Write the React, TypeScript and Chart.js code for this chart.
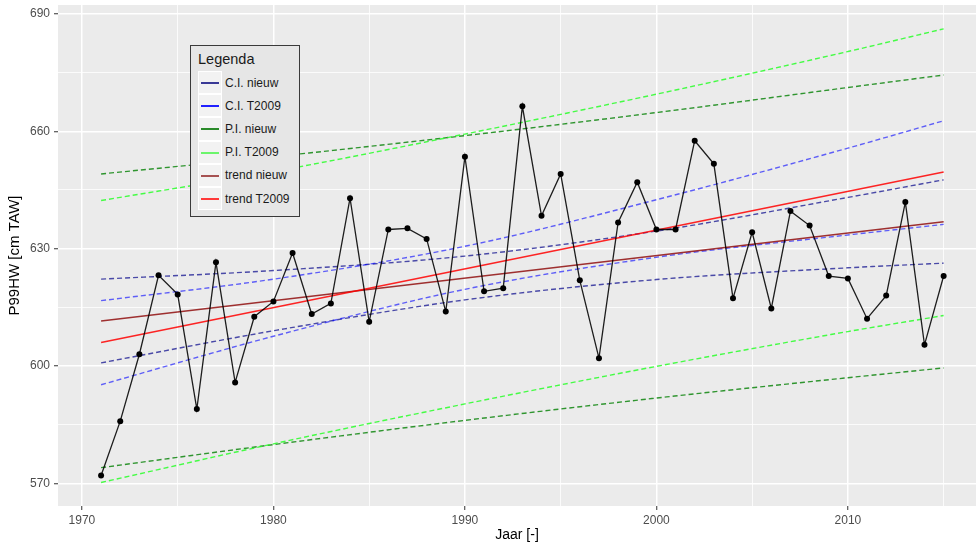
import React, { useEffect, useRef } from 'react';
import { Chart, registerables } from 'chart.js';

Chart.register(...registerables);

// ---- data ----
const years = [
  1971, 1972, 1973, 1974, 1975, 1976, 1977, 1978, 1979, 1980,
  1981, 1982, 1983, 1984, 1985, 1986, 1987, 1988, 1989, 1990,
  1991, 1992, 1993, 1994, 1995, 1996, 1997, 1998, 1999, 2000,
  2001, 2002, 2003, 2004, 2005, 2006, 2007, 2008, 2009, 2010,
  2011, 2012, 2013, 2014, 2015,
];
const p99hw = [
  572.0, 585.9, 603.0, 623.2, 618.3, 589.0, 626.5, 595.8, 612.6, 616.5,
  628.9, 613.3, 616.0, 642.9, 611.3, 634.9, 635.2, 632.5, 613.9, 653.5,
  619.1, 619.9, 666.4, 638.4, 649.1, 621.9, 602.0, 636.7, 647.0, 634.9,
  634.9, 657.6, 651.7, 617.3, 634.2, 614.7, 639.6, 635.9, 623.0, 622.4,
  612.1, 618.0, 641.9, 605.4, 623.0,
];

const bandYears = [1971, 1980, 1990, 2000, 2010, 2015];
const ciNieuwUpper = [622.2, 624.4, 628.1, 634.5, 643.1, 647.6];
const ciNieuwLower = [600.8, 609.0, 616.9, 622.1, 625.1, 626.3];
const ciT2009Upper = [616.7, 622.2, 630.6, 642.5, 655.7, 662.7];
const ciT2009Lower = [595.2, 607.6, 619.6, 627.8, 633.5, 636.2];
const piNieuwUpper = [649.1, 653.5, 658.9, 664.8, 671.2, 674.4];
const piNieuwLower = [574.0, 579.9, 586.1, 591.8, 597.0, 599.5];
const piT2009Upper = [642.3, 649.7, 659.3, 669.5, 680.4, 686.2];
const piT2009Lower = [570.2, 580.1, 590.3, 599.9, 608.8, 612.9];

const trendYears = [1971, 2015];
const trendNieuw = [611.5, 636.9];
const trendT2009 = [606.0, 649.6];

const xMajorTicks = [1970, 1980, 1990, 2000, 2010];
const yMajorTicks = [570, 600, 630, 660, 690];

const legendLabels = ['C.I. nieuw', 'C.I. T2009', 'P.I. nieuw', 'P.I. T2009', 'trend nieuw', 'trend T2009'];

// ---- styles ----
const COL_CI_NIEUW = 'rgba(10,10,140,0.72)';
const COL_CI_T2009 = 'rgba(0,0,255,0.6)';
const COL_PI_NIEUW = 'rgba(0,128,0,0.8)';
const COL_PI_T2009 = 'rgba(40,255,40,0.85)';
const COL_TR_NIEUW = 'rgba(139,0,0,0.8)';
const COL_TR_T2009 = 'rgba(255,0,0,0.85)';
const legendColors = ['#3a3a96', '#2020ff', '#2a8a2a', '#6cf56c', '#a65252', '#ff3a3a'];

const pts = (xs: number[], ys: number[]) => xs.map((x, i) => ({ x, y: ys[i] }));

const band = (label: string, ys: number[], color: string) => ({
  label,
  data: pts(bandYears, ys),
  borderColor: color,
  borderWidth: 1.4,
  borderDash: [5, 3],
  pointRadius: 0,
  cubicInterpolationMode: 'monotone' as const,
  fill: false,
});

export default function App() {
  const canvasRef = useRef<HTMLCanvasElement | null>(null);

  useEffect(() => {
    if (!canvasRef.current) return;
    Chart.defaults.font.family = '"Liberation Sans", Arial, sans-serif';
    const chart = new Chart(canvasRef.current, {
      type: 'line',
      data: {
        datasets: [
          {
            label: 'P99HW',
            data: pts(years, p99hw),
            borderColor: 'rgba(0,0,0,0.88)',
            borderWidth: 1.3,
            pointRadius: 3,
            pointBackgroundColor: '#000',
            pointBorderColor: '#000',
            pointBorderWidth: 0,
            tension: 0,
            fill: false,
          },
          {
            label: 'trend T2009',
            data: pts(trendYears, trendT2009),
            borderColor: COL_TR_T2009,
            borderWidth: 1.6,
            pointRadius: 0,
            fill: false,
          },
          {
            label: 'trend nieuw',
            data: pts(trendYears, trendNieuw),
            borderColor: COL_TR_NIEUW,
            borderWidth: 1.6,
            pointRadius: 0,
            fill: false,
          },
          band('C.I. T2009 upper', ciT2009Upper, COL_CI_T2009),
          band('C.I. T2009 lower', ciT2009Lower, COL_CI_T2009),
          band('C.I. nieuw upper', ciNieuwUpper, COL_CI_NIEUW),
          band('C.I. nieuw lower', ciNieuwLower, COL_CI_NIEUW),
          band('P.I. T2009 upper', piT2009Upper, COL_PI_T2009),
          band('P.I. T2009 lower', piT2009Lower, COL_PI_T2009),
          band('P.I. nieuw upper', piNieuwUpper, COL_PI_NIEUW),
          band('P.I. nieuw lower', piNieuwLower, COL_PI_NIEUW),
        ],
      },
      options: {
        animation: false,
        responsive: false,
        maintainAspectRatio: false,
        layout: { autoPadding: false, padding: { top: 5, left: 0, right: 0, bottom: 0 } },
        plugins: {
          legend: { display: false },
          tooltip: { enabled: false },
          title: { display: false },
        },
        scales: {
          x: {
            type: 'linear',
            min: 1968.75,
            max: 2016.69,
            border: { display: false },
            afterFit: (s: any) => {
              s.height = 38;
              s.paddingLeft = 0;
              s.paddingRight = 0;
            },
            ticks: {
              stepSize: 5,
              includeBounds: false,
              autoSkip: false,
              maxRotation: 0,
              padding: 3,
              color: '#4d4d4d',
              font: { size: 12 },
              callback: (v: any) => (xMajorTicks.includes(Number(v)) ? String(v) : ''),
            },
            grid: {
              color: '#ffffff',
              lineWidth: (c: any) => (c.tick && xMajorTicks.includes(c.tick.value) ? 1.5 : 0.8),
              tickColor: (c: any) => (c.tick && xMajorTicks.includes(c.tick.value) ? '#333333' : 'rgba(0,0,0,0)'),
              tickLength: 4,
              tickWidth: 1,
              drawTicks: true,
            },
            title: {
              display: true,
              text: 'Jaar [-]',
              color: '#000',
              font: { size: 14 },
              padding: { top: 0, bottom: 0 },
            },
          },
          y: {
            type: 'linear',
            min: 564.2,
            max: 692.3,
            border: { display: false },
            afterFit: (s: any) => {
              s.width = 58;
              s.paddingTop = 0;
              s.paddingBottom = 0;
            },
            ticks: {
              stepSize: 15,
              includeBounds: false,
              autoSkip: false,
              padding: 4,
              color: '#4d4d4d',
              font: { size: 12 },
              callback: (v: any) => (yMajorTicks.includes(Number(v)) ? String(v) : ''),
            },
            grid: {
              color: '#ffffff',
              lineWidth: (c: any) => (c.tick && yMajorTicks.includes(c.tick.value) ? 1.5 : 0.8),
              tickColor: (c: any) => (c.tick && yMajorTicks.includes(c.tick.value) ? '#333333' : 'rgba(0,0,0,0)'),
              tickLength: 4,
              tickWidth: 1,
              drawTicks: true,
            },
            title: {
              display: true,
              text: 'P99HW [cm TAW]',
              color: '#000',
              font: { size: 15 },
              padding: { top: 6, bottom: 0 },
            },
          },
        },
      },
      plugins: [
        {
          id: 'panelBg',
          beforeDraw: (ch: any) => {
            const { ctx, chartArea } = ch;
            ctx.save();
            ctx.fillStyle = '#ffffff';
            ctx.fillRect(0, 0, ch.width, ch.height);
            ctx.fillStyle = '#ebebeb';
            ctx.fillRect(chartArea.left, chartArea.top, chartArea.right - chartArea.left, chartArea.bottom - chartArea.top);
            ctx.restore();
          },
        },
      ],
    } as any);
    return () => chart.destroy();
  }, []);

  return (
    <div style={{ position: 'absolute', left: 0, top: 0, width: 976, height: 544, background: '#fff' }}>
      <canvas ref={canvasRef} width={976} height={544} style={{ display: 'block', width: 976, height: 544 }} />
      <div
        style={{
          position: 'absolute',
          left: 190,
          top: 45,
          width: 110,
          height: 172,
          boxSizing: 'border-box',
          border: '1px solid #3a3a3a',
          background: '#e6e6e6',
          fontFamily: '"Liberation Sans", Arial, sans-serif',
        }}
      >
        <div style={{ position: 'absolute', left: 7, top: 5, fontSize: 14.5, lineHeight: '17px', color: '#1a1a1a' }}>Legenda</div>
        {legendLabels.map((lab, i) => (
          <div key={lab}>
            <div
              style={{
                position: 'absolute',
                left: 7,
                top: 25 + i * 23.2,
                width: 24,
                height: 23.2,
                boxSizing: 'border-box',
                background: '#f2f2f2',
                border: '1px solid #ffffff',
              }}
            >
              <div style={{ position: 'absolute', left: 2, right: 2, top: 10, height: 2, background: legendColors[i] }} />
            </div>
            <div
              style={{
                position: 'absolute',
                left: 34,
                top: 25 + i * 23.2 + 4.6,
                fontSize: 12,
                lineHeight: '14px',
                color: '#1a1a1a',
                whiteSpace: 'nowrap',
              }}
            >
              {lab}
            </div>
          </div>
        ))}
      </div>
    </div>
  );
}
